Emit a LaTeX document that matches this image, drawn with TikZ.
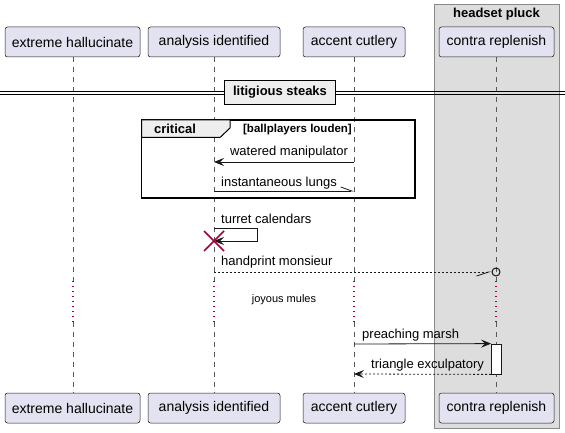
\documentclass[tikz,border=0pt]{standalone}
\usepackage{fontspec}
\setmainfont{Liberation Sans}
\usetikzlibrary{arrows.meta}
\definecolor{partfill}{HTML}{E2E2F0}
\definecolor{partdraw}{HTML}{181818}
\definecolor{grpfill}{HTML}{DDDDDD}
\definecolor{grpdraw}{HTML}{8A8A8A}
\definecolor{tabfill}{HTML}{EEEEEE}
\definecolor{umlred}{HTML}{A80036}
\tikzset{
  part/.style={draw=partdraw, fill=partfill, line width=0.5pt, rounded corners=2.5pt,
    minimum height=30pt, inner sep=0pt, font=\fontsize{14}{16}\selectfont},
  life/.style={draw=gray!70!black, line width=0.5pt, dash pattern=on 5pt off 5pt},
  delayline/.style={draw=umlred, line width=1.1pt, dash pattern=on 1.3pt off 3.7pt},
  msg/.style={draw=partdraw, line width=0.8pt},
  dmsg/.style={msg, dash pattern=on 2pt off 2pt},
  tip/.style={-{Stealth[length=10pt,width=8pt,inset=4pt]}},
  lbl/.style={font=\fontsize{13}{15}\selectfont, inner sep=0pt},
  blbl/.style={font=\bfseries\fontsize{13}{15}\selectfont, inner sep=0pt},
}
\begin{document}
\begin{tikzpicture}[x=1pt,y=-1pt]
\useasboundingbox (0,0) rectangle (565,433);
% group box
\draw[fill=grpfill, draw=grpdraw, line width=1pt] (434.5,5) rectangle (559,428);
\node[blbl] (grp) at (496.5,14) {headset pluck};
% lifelines
\foreach \x/\n in {73/a,214/b,354/c,496/d}{
  \coordinate (\n top) at (\x,57);
  \coordinate (\n d1) at (\x,281);
  \coordinate (\n d2) at (\x,322);
  \coordinate (\n bot) at (\x,393);
  \draw[life] (\n top) -- (\n d1);
  \draw[delayline] (\n d1) -- (\n d2);
  \draw[life] (\n d2) -- (\n bot);
}
% participants
\node[part, minimum width=135pt] (p1t) at (72.5,42) {extreme hallucinate};
\node[part, minimum width=132pt] (p2t) at (214,42) {analysis identified};
\node[part, minimum width=102pt] (p3t) at (354,42) {accent cutlery};
\node[part, minimum width=115pt] (p4t) at (496.5,42) {contra replenish};
\node[part, minimum width=135pt] (p1b) at (72.5,408) {extreme hallucinate};
\node[part, minimum width=132pt] (p2b) at (214,408) {analysis identified};
\node[part, minimum width=102pt] (p3b) at (354,408) {accent cutlery};
\node[part, minimum width=115pt] (p4b) at (496.5,408) {contra replenish};
% divider
\draw[line width=0.9pt] (0,91) -- (565,91);
\draw[line width=0.9pt] (0,94) -- (565,94);
\node[blbl, draw, line width=1.5pt, fill=tabfill, minimum width=111pt, minimum height=24pt] (div) at (280,92.5) {litigious steaks};
% critical frame
\draw[line width=1.5pt] (141.5,120) rectangle (415,198);
\draw[line width=1pt, fill=tabfill] (141.5,120) -- (230,120) -- (230,128) -- (220,137.5) -- (141.5,137.5) -- cycle;
\node[blbl] (crit) at (175,129) {critical};
\node[font=\bfseries\fontsize{11.5}{13}\selectfont, inner sep=0pt, anchor=east] (guard) at (352,130) {[ballplayers louden]};
% messages
\coordinate (m1s) at (354,162); \coordinate (m1e) at (214,162);
\draw[msg, tip] (m1s) -- (m1e);
\node[lbl] (t1) at (289,152) {watered manipulator};
\coordinate (m2s) at (214,191); \coordinate (m2e) at (354,191);
\draw[msg, -{Straight Barb[harpoon,length=11pt,width=8pt]}] (m2s) -- (m2e);
\node[lbl] (t2) at (279,183) {instantaneous lungs};
% self message
\coordinate (m3s) at (214,228); \coordinate (m3e) at (214,241);
\draw[msg, tip] (m3s) -- (257,228) -- (257,241) -- (m3e);
\node[lbl, anchor=west] (t3) at (221,219) {turret calendars};
\draw[umlred, line width=1.6pt] (204,231) -- (224,251) (204,251) -- (224,231);
% handprint
\coordinate (m4s) at (214,272); \coordinate (m4e) at (491,272);
\draw[dmsg, -{Straight Barb[harpoon,swap,length=12pt,width=8pt]}] (m4s) -- (m4e);
\node[draw=partdraw, line width=1pt, circle, inner sep=0pt, minimum size=8pt] (circ) at (496,272) {};
\node[lbl, anchor=west] (t4) at (221,262) {handprint monsieur};
% delay text
\node[font=\fontsize{11}{13}\selectfont, inner sep=0pt] (dly) at (284,300) {joyous mules};
% activation
\node[draw=partdraw, fill=white, line width=0.8pt, minimum width=10pt, minimum height=30pt, inner sep=0pt] (act) at (496.5,359) {};
\coordinate (m5s) at (354,344);
\draw[msg, tip] (m5s) -- (act.north west);
\node[lbl, anchor=west] (t5) at (362,335) {preaching marsh};
\coordinate (m6e) at (354,374);
\draw[dmsg, tip] (act.south west) -- (m6e);
\node[lbl, anchor=west] (t6) at (371,365) {triangle exculpatory};
\end{tikzpicture}
\end{document}
